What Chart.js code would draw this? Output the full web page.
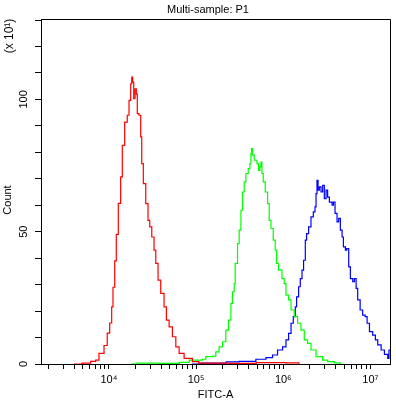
<!DOCTYPE html>
<html>
<head>
<meta charset="utf-8">
<script src="https://cdn.jsdelivr.net/npm/chart.js@4.4.1/dist/chart.umd.min.js"></script>
<style>
    body { margin: 0; background: #fff; }
    #wrap { width: 396px; height: 403px; }
</style>
</head>
<body>
<div id="wrap"><canvas id="histChart"></canvas></div>
<script>
// FITC-A positions are given as log10 values, counts in units of x10
const redLog = [3.60, 3.69, 3.79, 3.847, 3.885, 3.943, 3.980, 4.008, 4.031, 4.046, 4.066, 4.084, 4.107, 4.134, 4.153, 4.180, 4.210, 4.230, 4.249, 4.261, 4.272, 4.284, 4.299, 4.314, 4.325, 4.345, 4.364, 4.376, 4.394, 4.422, 4.448, 4.468, 4.491, 4.517, 4.537, 4.563, 4.594, 4.632, 4.659, 4.690, 4.728, 4.767, 4.805, 4.862, 4.957, 5.03, 5.38, 5.69, 6.03, 6.18];
const redCount = [0, 0.3, 1, 1.5, 4, 7, 11.7, 15.5, 21.6, 29, 39, 49, 60.7, 70.7, 82.6, 91.4, 94, 99.6, 105.9, 108.4, 106.5, 100.3, 104, 102, 94.6, 94, 85.8, 75.7, 68.2, 60.6, 54.3, 51.8, 48, 43, 38, 31.7, 26.7, 21.6, 16.6, 14, 10.3, 6.5, 4, 2.1, 0.9, 0.3, 0.2, 0.5, 0.4, 0];

const greenLog = [4.25, 4.31, 4.575, 4.805, 4.92, 5.072, 5.111, 5.187, 5.226, 5.264, 5.302, 5.341, 5.371, 5.399, 5.417, 5.437, 5.448, 5.475, 5.494, 5.514, 5.532, 5.552, 5.571, 5.598, 5.617, 5.629, 5.636, 5.647, 5.667, 5.698, 5.716, 5.732, 5.744, 5.755, 5.770, 5.793, 5.820, 5.839, 5.859, 5.885, 5.908, 5.923, 5.946, 5.985, 6.011, 6.031, 6.061, 6.089, 6.126, 6.164, 6.203, 6.241, 6.279, 6.318, 6.376, 6.452, 6.509, 6.586, 6.655];
const greenCount = [0, 0.3, 0.2, 0.6, 1.5, 1.8, 2.8, 3, 4.6, 6.5, 8.4, 12.8, 16.6, 22.9, 27.3, 30.4, 38, 45.5, 50.6, 58.1, 65, 68.8, 72, 73.8, 75.7, 79.5, 81.4, 78.9, 77, 75.7, 73.2, 74.5, 76.3, 72, 68.8, 65, 60.6, 54.3, 51.2, 46.8, 43, 38, 35.5, 32.3, 30.4, 26, 24.2, 20.4, 17.9, 15.4, 12.8, 9.1, 7.8, 5.3, 2.8, 1.5, 0.9, 0.4, 0];

const blueLog = [4.95, 5.034, 5.345, 5.494, 5.686, 5.801, 5.877, 5.934, 5.992, 6.031, 6.061, 6.089, 6.115, 6.138, 6.153, 6.176, 6.195, 6.215, 6.233, 6.253, 6.268, 6.291, 6.318, 6.345, 6.364, 6.376, 6.387, 6.399, 6.414, 6.433, 6.452, 6.471, 6.491, 6.509, 6.529, 6.560, 6.575, 6.594, 6.617, 6.636, 6.655, 6.675, 6.690, 6.713, 6.728, 6.751, 6.770, 6.797, 6.816, 6.836, 6.854, 6.882, 6.911, 6.939, 6.962, 6.989, 7.026, 7.057, 7.084, 7.123, 7.161, 7.199, 7.213, 7.23];
const blueCount = [0, 0.3, 0.8, 1.0, 1.8, 2.4, 3.4, 5.3, 6.5, 9.1, 11.6, 15.4, 17.9, 21.6, 25.4, 29.2, 32.3, 35.5, 39.2, 46.8, 49.3, 51.8, 55.6, 57.5, 59.4, 64.4, 69.4, 65.7, 66.9, 65, 67.5, 62.5, 65.7, 63.1, 61.2, 60, 61.2, 56.9, 53.7, 55, 50.6, 48, 44.3, 43, 43.6, 36.7, 32.3, 31.1, 32.3, 28.6, 24.2, 20.4, 18.5, 17.9, 15.4, 12.2, 10.9, 9.1, 7.2, 5.3, 3.6, 2.1, 5.3, 5.3];

const xTickExponents = [4, 5, 6, 7];
const xTickLabels = ['10\u2074', '10\u2075', '10\u2076', '10\u2077'];
const yTickValues = [0, 50, 100];
const yTickLabels = ['0', '50', '100'];

const X_MIN = Math.pow(10, 3.22);
const X_MAX = 16777216;
const FONT = '"Liberation Sans", Arial, sans-serif';

const toPoints = (logs, counts) => logs.map((v, i) => ({ x: Math.pow(10, v), y: counts[i] }));

const makeSet = (label, logs, counts, color) => ({
    label: label,
    data: toPoints(logs, counts),
    borderColor: color,
    borderWidth: 1.2,
    pointRadius: 0,
    stepped: true,
    fill: false
});

// border box, chart title and the rotated y labels
const framePlugin = {
    id: 'frame',
    afterDraw(chart) {
        const { ctx, chartArea: a } = chart;
        ctx.save();
        ctx.strokeStyle = '#000';
        ctx.lineWidth = 1;
        ctx.beginPath();
        ctx.moveTo(a.left, a.top - 0.5);
        ctx.lineTo(a.right + 0.5, a.top - 0.5);
        ctx.lineTo(a.right + 0.5, a.bottom);
        ctx.stroke();

        ctx.fillStyle = '#000';
        ctx.font = '11px ' + FONT;
        ctx.textAlign = 'center';
        ctx.textBaseline = 'middle';
        ctx.fillText('Multi-sample: P1', 208, 10);

        ctx.translate(8, 200);
        ctx.rotate(-Math.PI / 2);
        ctx.fillText('Count', 0, 0);
        ctx.rotate(Math.PI / 2);
        ctx.translate(2, 36 - 200);
        ctx.rotate(-Math.PI / 2);
        ctx.font = '12px ' + FONT;
        ctx.fillText('(x 10\u00b9)', 0, 0);
        ctx.restore();
    }
};

new Chart(document.getElementById('histChart'), {
    type: 'line',
    data: {
        datasets: [
            makeSet('Red', redLog, redCount, '#ff0000'),
            makeSet('Green', greenLog, greenCount, '#00ff00'),
            makeSet('Blue', blueLog, blueCount, '#0000ff')
        ]
    },
    options: {
        responsive: true,
        maintainAspectRatio: false,
        animation: false,
        devicePixelRatio: 1,
        layout: { padding: { top: 20, right: 6, left: 0, bottom: 0 } },
        plugins: {
            legend: { display: false },
            tooltip: { enabled: false },
            title: { display: false }
        },
        scales: {
            x: {
                type: 'logarithmic',
                min: X_MIN,
                max: X_MAX,
                afterBuildTicks: scale => {
                    const ticks = [];
                    for (let e = 3; e <= 7; e++) {
                        for (let m = 1; m <= 9; m++) {
                            const v = m * Math.pow(10, e);
                            if (v >= X_MIN && v <= X_MAX) ticks.push({ value: v });
                        }
                    }
                    scale.ticks = ticks;
                },
                afterFit: scale => { scale.height = 39; },
                grid: { drawOnChartArea: false, drawTicks: true, tickLength: 5, color: '#000' },
                border: { display: true, color: '#000', width: 1 },
                ticks: {
                    autoSkip: false,
                    maxRotation: 0,
                    padding: 4,
                    color: '#000',
                    font: { family: FONT, size: 11 },
                    callback: value => {
                        const e = Math.round(Math.log10(value));
                        if (Math.abs(value - Math.pow(10, e)) > 1e-6 * value) return '';
                        const i = xTickExponents.indexOf(e);
                        return i >= 0 ? xTickLabels[i] : '';
                    }
                },
                title: {
                    display: true,
                    text: 'FITC-A',
                    color: '#000',
                    font: { family: FONT, size: 11 },
                    padding: { top: 1, bottom: 1 }
                }
            },
            y: {
                type: 'linear',
                min: 0,
                max: 130,
                afterFit: scale => { scale.width = 41; },
                grid: { drawOnChartArea: false, drawTicks: true, tickLength: 6, color: '#000' },
                border: { display: true, color: '#000', width: 1 },
                ticks: {
                    stepSize: 10,
                    minRotation: 90,
                    maxRotation: 90,
                    crossAlign: 'center',
                    padding: 2,
                    color: '#000',
                    font: { family: FONT, size: 11 },
                    callback: value => {
                        const i = yTickValues.indexOf(value);
                        return i >= 0 ? yTickLabels[i] : '';
                    }
                }
            }
        }
    },
    plugins: [framePlugin]
});
</script>
</body>
</html>
